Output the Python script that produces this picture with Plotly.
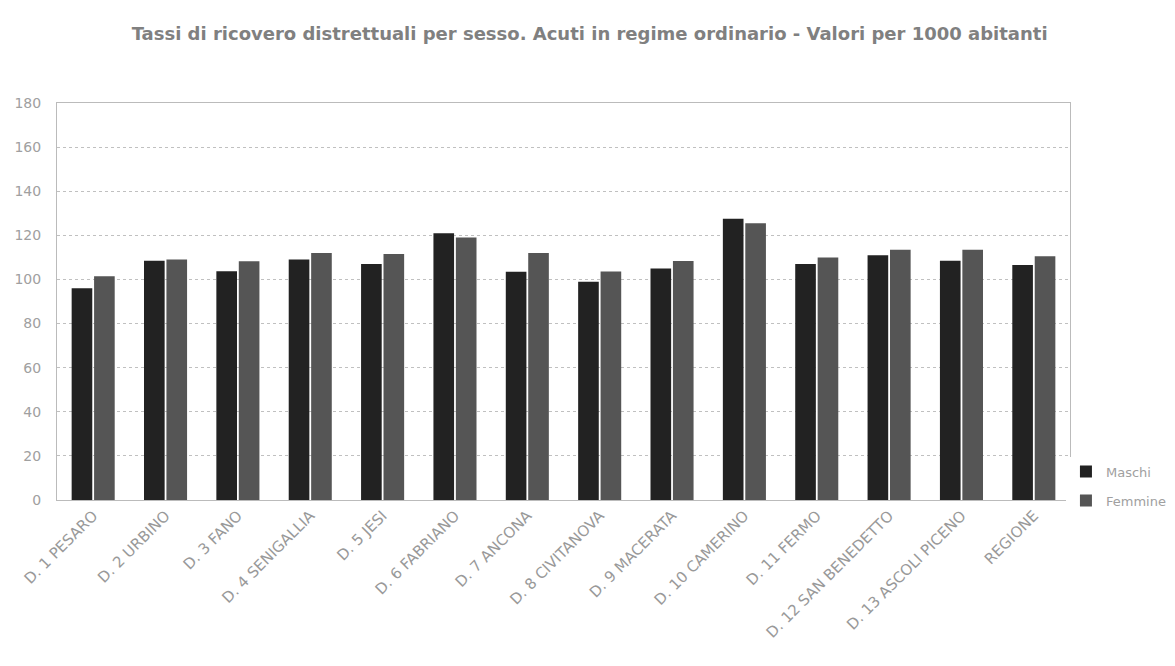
import plotly.graph_objects as go

categories = ["D. 1 PESARO", "D. 2 URBINO", "D. 3 FANO", "D. 4 SENIGALLIA", "D. 5 JESI",
              "D. 6 FABRIANO", "D. 7 ANCONA", "D. 8 CIVITANOVA", "D. 9 MACERATA",
              "D. 10 CAMERINO", "D. 11 FERMO", "D. 12 SAN BENEDETTO", "D. 13 ASCOLI PICENO",
              "REGIONE"]
maschi = [96, 108.5, 103.7, 109, 107, 121, 103.5, 99, 105, 127.5, 107, 111, 108.5, 106.5]
femmine = [101.5, 109, 108.2, 112, 111.5, 119, 112, 103.6, 108.4, 125.5, 110, 113.5, 113.5, 110.5]
y_ticks = [0, 20, 40, 60, 80, 100, 120, 140, 160, 180]

fig = go.Figure()
fig.add_trace(go.Bar(name="Maschi", x=categories, y=maschi, marker_color="#222222",
                     marker_line_width=0, legendgroup="m"))
fig.add_trace(go.Bar(name="Femmine", x=categories, y=femmine, marker_color="#555555",
                     marker_line_width=0, legendgroup="f"))

fig.update_layout(
    width=1175, height=666,
    paper_bgcolor="white", plot_bgcolor="white",
    margin=dict(l=49, r=111, t=95, b=174),
    barmode="group", bargap=0.38, bargroupgap=0.08,
    font=dict(family="DejaVu Sans", color="#888888"),
    title=dict(text="<b>Tassi di ricovero distrettuali per sesso. Acuti in regime ordinario - Valori per 1000 abitanti</b>",
               x=0.495, xanchor="center", y=0.962, yanchor="middle",
               font=dict(size=18, color="#808080", family="DejaVu Sans")),
    legend=dict(x=0.996, y=0.035, xanchor="left", yanchor="middle",
                font=dict(size=13, color="#a0a0a0", family="DejaVu Sans"),
                itemwidth=30, tracegroupgap=9, traceorder="grouped"),
    xaxis=dict(tickangle=-45, tickfont=dict(size=15, color="#999999", family="DejaVu Sans"),
               showline=True, linecolor="#bbbbbb", linewidth=1, mirror=True,
               ticks="", showgrid=False, automargin=False),
    yaxis=dict(range=[0, 180], tickvals=y_ticks, tickfont=dict(size=14, color="#a0a0a0"),
               showgrid=True, gridcolor="#c0c0c0", griddash="dot", gridwidth=1,
               showline=True, linecolor="#bbbbbb", linewidth=1, mirror=True,
               zeroline=False, ticks="", ticklen=0, ticklabelstandoff=12,
               automargin=False),
)

fig.write_html("out.html")
